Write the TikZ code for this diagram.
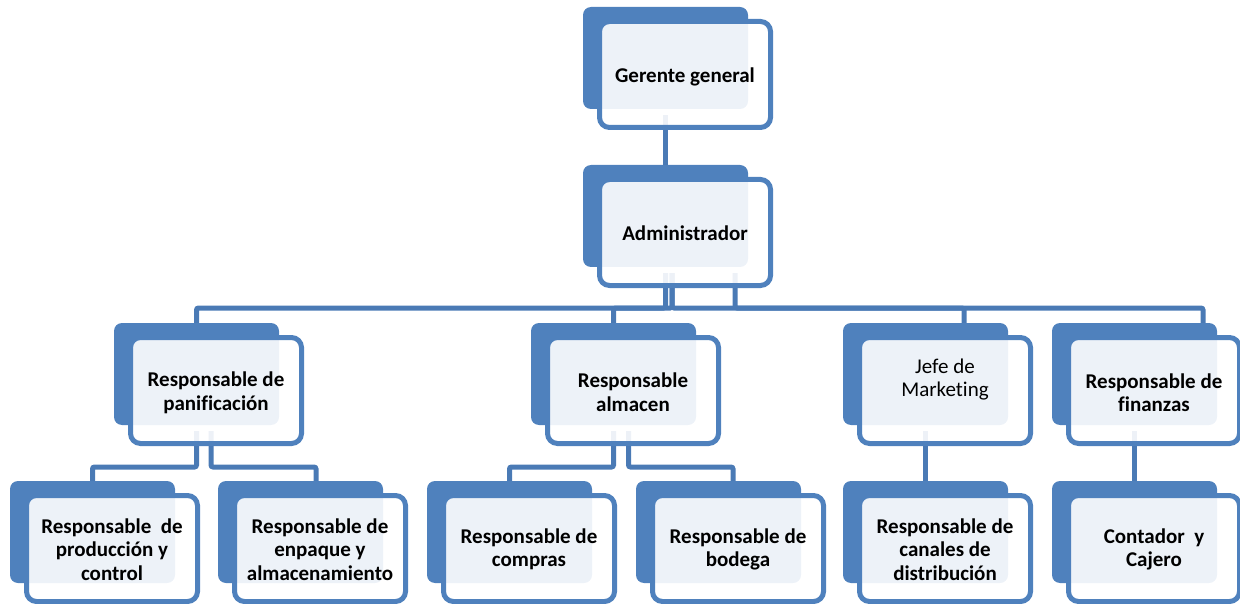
\documentclass[tikz,border=0pt]{standalone}
\usepackage{fontspec}
\setmainfont{Carlito}[Ligatures=NoCommon]
\definecolor{boxblue}{HTML}{4F81BD}
\definecolor{connblue}{HTML}{4A7AB5}
\begin{document}
\begin{tikzpicture}[x=1pt,y=-1pt,
  backbox/.style={fill=boxblue, draw=none, rounded corners=8pt, minimum width=165pt, minimum height=102pt, inner sep=0pt},
  frontbox/.style={draw=boxblue, line width=5pt, fill=white, fill opacity=0.9, rounded corners=10pt,
    minimum width=171pt, minimum height=106pt, inner sep=0pt},
  txt/.style={inner sep=0pt, align=center, font=\fontsize{21}{23.5}\selectfont\bfseries},
  conn/.style={draw=connblue, line width=5pt, rounded corners=2pt}]
\useasboundingbox (0,0) rectangle (1240,604);
\clip (0,0) rectangle (1240,604);
% back boxes
\node[backbox] (gB) at (665.5,58) {};
\node[backbox] (aB) at (665.5,216) {};
\node[backbox] (pB) at (196.5,374) {};
\node[backbox] (lB) at (613.5,374) {};
\node[backbox] (jB) at (925.5,374) {};
\node[backbox] (fB) at (1134.5,374) {};
\node[backbox] (prB) at (92.5,532) {};
\node[backbox] (eB) at (300.5,532) {};
\node[backbox] (coB) at (509.5,532) {};
\node[backbox] (boB) at (718.5,532) {};
\node[backbox] (caB) at (925.5,532) {};
\node[backbox] (ctB) at (1134.5,532) {};
% connectors
\coordinate (h1) at (0,308);
\coordinate (h2) at (0,467);
\coordinate (a1) at ([yshift=-6pt]aB.south);
\coordinate (a2) at ([xshift=6.5pt,yshift=-6pt]aB.south);
\coordinate (a3) at ([xshift=69.5pt,yshift=-6pt]aB.south);
\draw[conn] ([yshift=-6pt]gB.south) -- (aB.north);
\draw[conn] (a1) -- (a1 |- h1) -| (pB.north);
\draw[conn] (a2) -- (a2 |- h1) -| (lB.north);
\draw[conn] (a2) -- (a2 |- h1) -| ([xshift=38.5pt]jB.north);
\draw[conn] (a3) -- (a3 |- h1) -| ([xshift=68.5pt]fB.north);
\coordinate (p1) at ([yshift=-6pt]pB.south);
\coordinate (p2) at ([xshift=14.5pt,yshift=-6pt]pB.south);
\draw[conn] (p1) -- (p1 |- h2) -| (prB.north);
\draw[conn] (p2) -- (p2 |- h2) -| ([xshift=15.5pt]eB.north);
\coordinate (l1) at ([yshift=-6pt]lB.south);
\coordinate (l2) at ([xshift=15pt,yshift=-6pt]lB.south);
\draw[conn] (l1) -- (l1 |- h2) -| (coB.north);
\draw[conn] (l2) -- (l2 |- h2) -| ([xshift=14.5pt]boB.north);
\draw[conn] ([yshift=-6pt]jB.south) -- (caB.north);
\draw[conn] ([yshift=-6pt]fB.south) -- (ctB.north);
% front boxes
\node[frontbox] (gF) at (685,74.5) {};
\node[frontbox] (aF) at (685,232.5) {};
\node[frontbox] (pF) at (216,390.5) {};
\node[frontbox] (lF) at (633,390.5) {};
\node[frontbox] (jF) at (945,390.5) {};
\node[frontbox] (fF) at (1154,390.5) {};
\node[frontbox] (prF) at (112,548.5) {};
\node[frontbox] (eF) at (320,548.5) {};
\node[frontbox] (coF) at (529,548.5) {};
\node[frontbox] (boF) at (738,548.5) {};
\node[frontbox] (caF) at (945,548.5) {};
\node[frontbox] (ctF) at (1154,548.5) {};
% texts
\node[txt] (gT) at ([yshift=-2pt]gF.center) {Gerente general};
\node[txt] (aT) at ([yshift=-1pt]aF.center) {Administrador};
\node[txt] (pT) at ([yshift=-2.5pt]pF.center) {Responsable de\\panificación};
\node[txt] (lT) at ([yshift=-1.5pt]lF.center) {Responsable\\almacen};
\node[txt, font=\fontsize{21}{23.5}\selectfont\mdseries] (jT) at ([yshift=11pt]jF.center) {Jefe de\\Marketing};
\node[txt] (fT) at ([yshift=-2pt]fF.center) {Responsable de\\finanzas};
\node[txt] (prT) at ([yshift=-1pt]prF.center) {Responsable~ de\\producción y\\control};
\node[txt] (eT) at ([yshift=-1pt]eF.center) {Responsable de\\enpaque y\\almacenamiento};
\node[txt] (coT) at ([yshift=-1pt]coF.center) {Responsable de\\compras};
\node[txt] (boT) at ([yshift=-1pt]boF.center) {Responsable de\\bodega};
\node[txt] (caT) at ([yshift=-1pt]caF.center) {Responsable de\\canales de\\distribución};
\node[txt] (ctT) at ([yshift=-1pt]ctF.center) {Contador~ y\\Cajero};
\end{tikzpicture}
\end{document}
